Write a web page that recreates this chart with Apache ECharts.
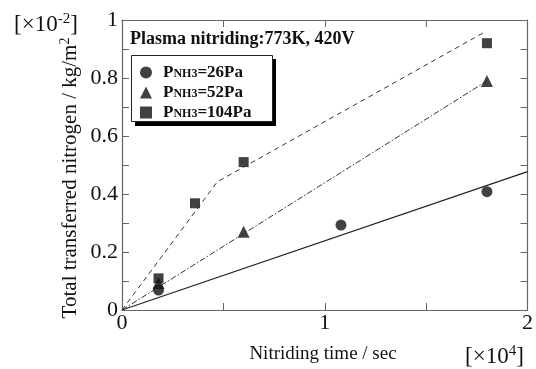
<!DOCTYPE html>
<html><head><meta charset="utf-8">
<script src="https://cdn.jsdelivr.net/npm/echarts@6/dist/echarts.min.js"></script>
<style>html,body{margin:0;padding:0;background:#fff}#c{width:536px;height:369px}</style>
</head><body><div id="c"></div>
<script>
// time in seconds, nitrogen in 10^-2 kg/m^2
const xTicks = [0, 10000, 20000];
const yTickLabels = [0, 0.2, 0.4, 0.6, 0.8, 1];
const t26 = [1800, 10800, 18000];
const n26 = [0.069, 0.293, 0.408];
const t52 = [1800, 6000, 18000];
const n52 = [0.093, 0.27, 0.79];
const t104 = [1800, 3600, 6000, 18000];
const n104 = [0.109, 0.368, 0.51, 0.92];
const fit26T = [0, 20000];
const fit26N = [0, 0.477];
const fit52T = [0, 18000];
const fit52N = [0, 0.79];
const fit104T = [0, 4700, 17800];
const fit104N = [0, 0.442, 0.955];
const legendNames = ['26Pa', '52Pa', '104Pa'];

const zip = (a, b) => a.map((v, i) => [v, b[i]]);
const serif = '"Liberation Serif", "DejaVu Serif", serif';
const axisCol = '#666';
const ink = '#111';

const chart = echarts.init(document.getElementById('c'), null, {renderer: 'canvas'});
const baseX = {
  type: 'value', min: 0, max: 20000, interval: 5000,
  axisLine: {show: true, onZero: false, lineStyle: {color: axisCol, width: 1.2}},
  axisTick: {show: true, inside: true, length: 7, lineStyle: {color: axisCol}},
  splitLine: {show: false}
};
const baseY = {
  type: 'value', min: 0, max: 1, interval: 0.1,
  axisLine: {show: true, onZero: false, lineStyle: {color: axisCol, width: 1.2}},
  axisTick: {show: true, inside: true, length: 7, lineStyle: {color: axisCol}},
  splitLine: {show: false}
};
chart.setOption({
  animation: false,
  grid: {left: 122, right: 8, top: 20, bottom: 59},
  xAxis: [
    Object.assign({}, baseX, {position: 'bottom',
      axisLabel: {show: true, fontFamily: serif, fontSize: 22, color: ink, margin: 2,
        formatter: v => xTicks.includes(v) ? String(v / 10000) : ''}}),
    Object.assign({}, baseX, {position: 'top', axisLabel: {show: false}})
  ],
  yAxis: [
    Object.assign({}, baseY, {position: 'left',
      axisLabel: {show: true, fontFamily: serif, fontSize: 22, color: ink, margin: 4,
        formatter: v => { const r = Math.round(v * 10) / 10; return yTickLabels.some(l => Math.abs(l - r) < 1e-6) ? String(r) : ''; }}}),
    Object.assign({}, baseY, {position: 'right', axisLabel: {show: false}})
  ],
  legend: {
    data: legendNames, orient: 'vertical', left: 140, top: 61,
    padding: 0, itemGap: 0, itemWidth: 12, itemHeight: 12,
    backgroundColor: 'transparent', borderWidth: 0, z: 10,
    formatter: n => '{p|P}{s|NH3}{b|=' + n + '}',
    textStyle: {rich: {
      p: {fontFamily: serif, fontWeight: 'bold', fontSize: 17, color: ink, lineHeight: 15, padding: [0, 0, 0, 6]},
      b: {fontFamily: serif, fontWeight: 'bold', fontSize: 17, color: ink, lineHeight: 15},
      s: {fontFamily: serif, fontWeight: 'bold', fontSize: 12, color: ink, verticalAlign: 'bottom', padding: [7, 0, 0, 0], lineHeight: 15}
    }}
  },
  series: [
    {name: 'fit26', type: 'line', data: zip(fit26T, fit26N), symbol: 'none', lineStyle: {color: '#222', width: 1.2, type: 'solid'}, silent: true},
    {name: 'fit52', type: 'line', data: zip(fit52T, fit52N), symbol: 'none', lineStyle: {color: '#333', width: 1, type: [6, 2, 1.5, 2]}, silent: true},
    {name: 'fit104', type: 'line', data: zip(fit104T, fit104N), symbol: 'none', lineStyle: {color: '#333', width: 1, type: [5, 4]}, silent: true},
    {name: '26Pa', type: 'scatter', data: zip(t26, n26), symbol: 'circle', symbolSize: 11, itemStyle: {color: ink}},
    {name: '52Pa', type: 'scatter', data: zip(t52, n52), symbol: 'triangle', symbolSize: 12, itemStyle: {color: ink}},
    {name: '104Pa', type: 'scatter', data: zip(t104, n104), symbol: 'rect', symbolSize: 10, itemStyle: {color: ink}}
  ],
  graphic: [
    {type: 'rect', z: 5, shape: {x: 135, y: 59, width: 141, height: 67}, style: {fill: '#000'}},
    {type: 'rect', z: 6, shape: {x: 131.5, y: 55.5, width: 141, height: 66}, style: {fill: '#fff', stroke: '#222', lineWidth: 1}},
    {type: 'text', left: 130, top: 30, style: {text: 'Plasma nitriding:773K, 420V', font: 'bold 18px ' + serif, fill: ink}},
    {type: 'text', left: 14, top: 12, style: {text: '[×10{sup|-2}]', font: '23px ' + serif, fill: ink,
      rich: {sup: {fontSize: 15, fontFamily: serif, verticalAlign: 'top', padding: [0, 0, 10, 0]}}}},
    {type: 'text', left: 465, top: 344, style: {text: '[×10{sup|4}]', font: '23px ' + serif, fill: ink,
      rich: {sup: {fontSize: 15, fontFamily: serif, verticalAlign: 'top', padding: [0, 0, 10, 0]}}}},
    {type: 'text', x: 323, y: 354, style: {text: 'Nitriding time / sec', font: '19px ' + serif, fill: ink, align: 'center', verticalAlign: 'middle'}},
    {type: 'text', x: 70, y: 178, rotation: Math.PI / 2, style: {text: 'Total transferred nitrogen / kg/m{sup|2}', font: '21px ' + serif, fill: ink, align: 'center', verticalAlign: 'middle',
      rich: {sup: {fontSize: 14, fontFamily: serif, verticalAlign: 'top', padding: [0, 0, 9, 0]}}}}
  ]
});
</script></body></html>
